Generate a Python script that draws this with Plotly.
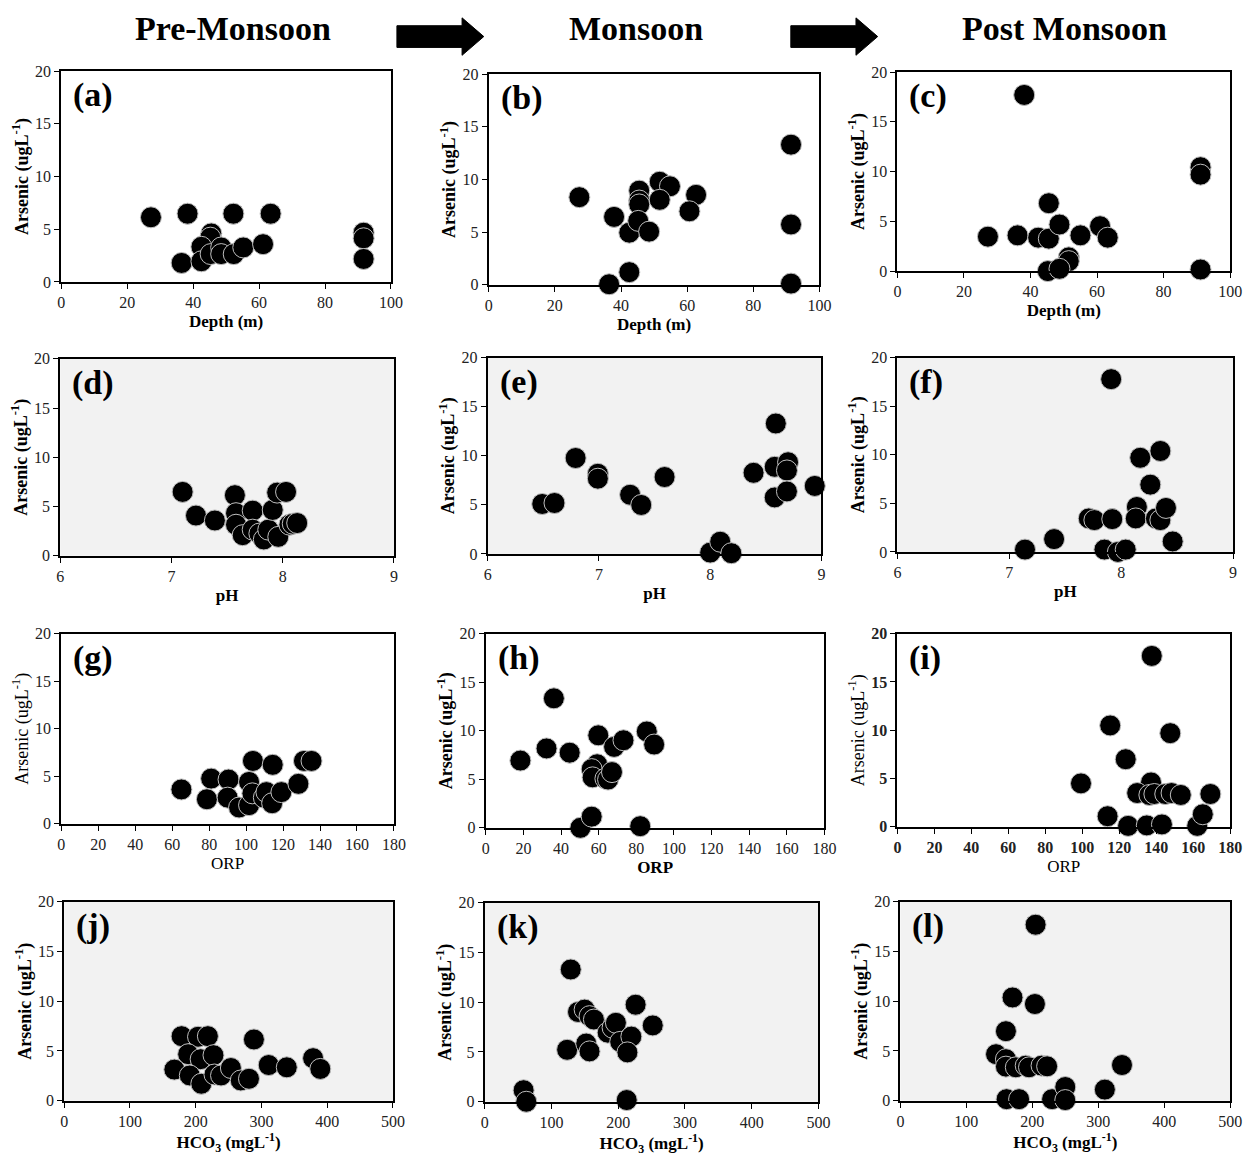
import plotly.graph_objects as go

W, H = 1253, 1161
FONT = "Liberation Serif, Times New Roman, serif"

# ---------------- data ----------------
# Row 1: Depth (m) vs Arsenic
depth_pre = [27.2, 38.3, 52.2, 63.5, 45.5, 45.2, 42.5, 36.5, 42.5, 45.3, 48.5, 48.5, 52.3, 55.2, 61.2, 91.7, 91.7, 91.7]
as_depth_pre = [6.13, 6.47, 6.47, 6.47, 4.6, 4.2, 3.33, 1.8, 1.96, 2.64, 3.27, 2.64, 2.64, 3.27, 3.58, 4.67, 4.14, 2.18]
depth_mon = [27.4, 37.9, 42.5, 42.5, 36.4, 45.5, 45.5, 45.5, 45.2, 48.5, 51.7, 54.8, 51.7, 62.7, 60.7, 91.4, 91.4, 91.4]
as_depth_mon = [8.32, 6.45, 4.95, 1.21, 0.06, 8.94, 8.0, 7.63, 6.07, 5.05, 9.78, 9.35, 8.07, 8.54, 6.98, 13.3, 5.73, 0.12]
depth_post = [38.1, 27.2, 36.1, 42.3, 45.5, 45.5, 48.7, 55.0, 60.9, 63.2, 51.5, 51.5, 45.2, 48.7, 91.1, 91.1, 91.1]
as_depth_post = [17.7, 3.46, 3.59, 3.36, 6.82, 3.26, 4.68, 3.59, 4.51, 3.36, 1.38, 1.0, 0.0, 0.23, 10.44, 9.69, 0.16]

# Row 2: pH vs Arsenic
ph_pre = [7.10, 7.22, 7.39, 7.57, 7.58, 7.58, 7.64, 7.73, 7.73, 7.79, 7.83, 7.87, 7.91, 7.95, 7.96, 8.03, 8.06, 8.09, 8.13]
as_ph_pre = [6.49, 4.09, 3.59, 6.16, 4.33, 3.16, 2.1, 4.59, 2.66, 2.26, 1.66, 2.66, 4.66, 6.42, 1.93, 6.49, 3.16, 3.26, 3.33]
ph_mon = [6.49, 6.60, 6.79, 6.99, 6.99, 7.28, 7.38, 7.59, 8.0, 8.09, 8.19, 8.39, 8.59, 8.58, 8.70, 8.69, 8.58, 8.69, 8.94]
as_ph_mon = [5.09, 5.19, 9.78, 8.17, 7.67, 6.03, 4.99, 7.84, 0.13, 1.24, 0.07, 8.27, 13.3, 8.88, 9.35, 8.51, 5.76, 6.37, 6.93]
ph_post = [7.91, 7.14, 7.40, 7.71, 7.76, 7.92, 7.85, 7.97, 8.04, 8.17, 8.35, 8.26, 8.14, 8.13, 8.31, 8.35, 8.40, 8.46]
as_ph_post = [17.8, 0.24, 1.32, 3.45, 3.28, 3.38, 0.24, 0.0, 0.24, 9.7, 10.4, 6.93, 4.63, 3.45, 3.45, 3.28, 4.53, 1.08]

# Row 3: ORP vs Arsenic
orp_pre = [65.0, 78.8, 81.1, 90.5, 90.0, 96.2, 101.6, 101.6, 103.7, 103.4, 109.6, 111.0, 114.1, 114.4, 119.1, 128.3, 131.3, 135.4]
as_orp_pre = [3.62, 2.59, 4.76, 4.66, 2.76, 1.72, 4.41, 1.97, 6.62, 3.21, 2.76, 3.34, 2.17, 6.21, 3.34, 4.21, 6.62, 6.62]
orp_mon = [18.4, 32.3, 36.2, 44.6, 50.3, 56.3, 59.2, 56.3, 56.8, 59.8, 63.6, 65.0, 67.1, 68.2, 73.2, 85.6, 89.5, 82.1]
as_orp_mon = [6.93, 8.18, 13.34, 7.74, 0.0, 1.15, 6.55, 6.05, 5.2, 9.53, 5.07, 4.97, 5.74, 8.34, 9.02, 9.93, 8.58, 0.17]
orp_post = [137.6, 115.1, 147.6, 123.5, 99.3, 137.2, 129.7, 136.3, 139.0, 144.9, 148.3, 153.3, 169.3, 113.7, 124.8, 134.9, 143.1, 162.2, 165.2]
as_orp_post = [17.7, 10.5, 9.7, 7.0, 4.5, 4.6, 3.5, 3.3, 3.4, 3.4, 3.5, 3.3, 3.4, 1.1, 0.1, 0.15, 0.25, 0.1, 1.3]

# Row 4: HCO3 vs Arsenic
hco3_pre = [178.5, 203.5, 218.5, 288.5, 188.5, 207.5, 227.0, 167.5, 191.0, 208.5, 228.5, 238.5, 253.5, 268.5, 281.0, 311.0, 338.5, 378.5, 389.5]
as_hco3_pre = [6.49, 6.43, 6.49, 6.16, 4.68, 4.18, 4.58, 3.13, 2.54, 1.71, 2.64, 2.54, 3.29, 2.04, 2.21, 3.59, 3.36, 4.28, 3.2]
hco3_mon = [128.8, 58.2, 62.2, 212.7, 123.4, 139.7, 149.6, 157.0, 163.5, 152.0, 157.0, 184.1, 191.5, 196.5, 202.9, 219.6, 213.7, 226.0, 251.7]
as_hco3_mon = [13.29, 1.16, 0.0, 0.17, 5.22, 9.02, 9.26, 8.6, 8.26, 5.85, 5.06, 6.94, 7.44, 7.93, 6.02, 6.55, 4.96, 9.75, 7.67]
hco3_post = [205.0, 170.0, 204.0, 160.0, 145.0, 160.0, 160.0, 175.0, 190.0, 195.0, 214.0, 222.5, 336.0, 161.0, 180.0, 230.0, 250.0, 250.0, 310.0]
as_hco3_post = [17.69, 10.38, 9.72, 6.99, 4.68, 4.18, 3.43, 3.36, 3.53, 3.36, 3.53, 3.46, 3.59, 0.16, 0.16, 0.16, 1.38, 0.07, 1.12]

season_titles = ["Pre-Monsoon", "Monsoon", "Post Monsoon"]
panel_labels = ["(a)", "(b)", "(c)", "(d)", "(e)", "(f)", "(g)", "(h)", "(i)", "(j)", "(k)", "(l)"]
x_titles = ["Depth (m)", "pH", "ORP", "HCO<sub>3</sub> (mgL<sup>-1</sup>)"]
y_title = "Arsenic (ugL<sup>-1</sup>)"
x_ranges = [[0, 100], [6, 9], [0, 180], [0, 500]]
x_dticks = [20, 1, 20, 100]

data = [
    (depth_pre, as_depth_pre), (depth_mon, as_depth_mon), (depth_post, as_depth_post),
    (ph_pre, as_ph_pre), (ph_mon, as_ph_mon), (ph_post, as_ph_post),
    (orp_pre, as_orp_pre), (orp_mon, as_orp_mon), (orp_post, as_orp_post),
    (hco3_pre, as_hco3_pre), (hco3_mon, as_hco3_mon), (hco3_post, as_hco3_post),
]

# panel pixel boxes: left, right, top, bottom
boxes = [
    (58, 392, 64, 278), (491, 826, 67, 281), (905, 1242, 65, 267),
    (57, 395, 356, 556), (490, 828, 355, 554), (905, 1245, 355, 552),
    (58, 395, 635, 828), (488, 831, 635, 832), (905, 1242, 635, 831),
    (61, 394, 907, 1109), (487, 825, 908, 1110), (908, 1242, 907, 1109),
]
bg = ["white"] * 3 + ["#f2f2f2"] * 3 + ["white"] * 3 + ["#f2f2f2"] * 3
bold_titles = [True] * 12
bold_titles[6] = False
bold_titles[8] = False

def px(x):
    return x / W

def py(y):
    return 1 - y / H

fig = go.Figure()
layout = dict(
    width=W, height=H, margin=dict(l=0, r=0, t=0, b=0),
    paper_bgcolor="white", showlegend=False,
    font=dict(family=FONT, color="black", size=16),
)
annotations = []

for i, ((xs, ys), box) in enumerate(zip(data, boxes)):
    n = "" if i == 0 else str(i + 1)
    row = i // 3
    l, r, t, b = box
    fig.add_trace(go.Scatter(
        x=xs, y=ys, mode="markers", xaxis="x" + n, yaxis="y" + n,
        cliponaxis=False,
        marker=dict(size=21, color="black", line=dict(color="#bdbdbd", width=1)),
    ))
    bt = bold_titles[i]
    xt = x_titles[row]
    yt = y_title
    if bt:
        xt = "<b>" + xt + "</b>"
        yt = "<b>" + yt + "</b>"
    tickfont = dict(family=FONT, size=16, color="#222")
    if i == 8:
        tickfont = dict(family=FONT, size=16, color="#222", weight="bold")
    layout["xaxis" + n] = dict(
        domain=[px(l), px(r)], anchor="y" + n, range=x_ranges[row], dtick=x_dticks[row],
        showgrid=False, zeroline=False, showline=True, mirror=True,
        linecolor="black", linewidth=2, ticks="outside", ticklen=5, tickcolor="black",
        tickfont=tickfont,
        title=dict(text=xt, font=dict(family=FONT, size=17, color="black"), standoff=5),
    )
    layout["yaxis" + n] = dict(
        domain=[py(b), py(t)], anchor="x" + n, range=[0, 20], dtick=5,
        showgrid=False, zeroline=False, showline=True, mirror=True,
        linecolor="black", linewidth=2, ticks="outside", ticklen=5, tickcolor="black",
        tickfont=tickfont,
        title=dict(text=yt, font=dict(family=FONT, size=18, color="black"), standoff=2),
    )
    annotations.append(dict(
        text="<b>" + panel_labels[i] + "</b>", xref="paper", yref="paper",
        x=px(l + 10), y=py(t + 3), xanchor="left", yanchor="top", showarrow=False,
        font=dict(family=FONT, size=34, color="black"),
    ))

shapes = []
for i, box in enumerate(boxes):
    l, r, t, b = box
    if bg[i] != "white":
        shapes.append(dict(type="rect", xref="paper", yref="paper", layer="below",
                           x0=px(l), x1=px(r), y0=py(b), y1=py(t),
                           fillcolor=bg[i], line=dict(width=0)))

# season titles
for title, cx in zip(season_titles, [232, 640, 1074]):
    annotations.append(dict(
        text="<b>" + title + "</b>", xref="paper", yref="paper",
        x=px(cx), y=py(21), xanchor="center", yanchor="middle", showarrow=False,
        font=dict(family=FONT, size=34, color="black"),
    ))

# block arrows between titles
def arrow_path(x0):
    pts = [(x0, 18), (x0 + 66, 18), (x0 + 66, 10), (x0 + 88, 29),
           (x0 + 66, 48), (x0 + 66, 40), (x0, 40)]
    d = "M " + " L ".join(f"{px(x):.5f},{py(y):.5f}" for x, y in pts) + " Z"
    return d

for x0 in [398, 797]:
    shapes.append(dict(type="path", xref="paper", yref="paper", path=arrow_path(x0),
                       fillcolor="black", line=dict(color="black", width=1)))

layout["annotations"] = annotations
layout["shapes"] = shapes
layout["plot_bgcolor"] = "rgba(0,0,0,0)"
fig.update_layout(**layout)
fig.write_html("out.html")
